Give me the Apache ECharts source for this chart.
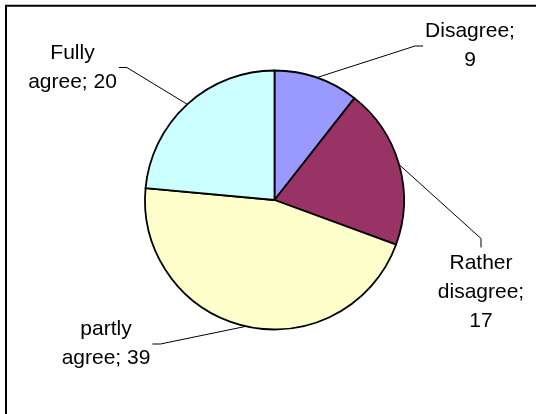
<!DOCTYPE html>
<html>
<head>
<meta charset="utf-8">
<script src="https://cdn.jsdelivr.net/npm/echarts@6/dist/echarts.min.js"></script>
<style>
  html, body { margin: 0; padding: 0; background: #fff; }
  #chart { width: 536px; height: 414px; }
</style>
</head>
<body>
<div id="chart"></div>
<script>
// Survey answers
const categories = ['Disagree', 'Rather disagree', 'partly agree', 'Fully agree'];
const values = [9, 17, 39, 20];
const sliceColors = ['#9999FF', '#993366', '#FFFFCC', '#CCFFFF'];

const FONT_SIZE = 21;
const FONT_FAMILY = '"Liberation Sans", Arial, sans-serif';
const LINE_HEIGHT = 29;
const WRAP_WIDTH = 98;

// Centre of each label block and the side its leader line comes in from
const labelSpots = [
  { x: 470, y: 46, side: 'left' },
  { x: 481, y: 292, side: 'top' },
  { x: 106, y: 344, side: 'right' },
  { x: 72.5, y: 67.5, side: 'right' }
];

// Word-wrap "name; value" to the label width
const measureCtx = document.createElement('canvas').getContext('2d');
measureCtx.font = FONT_SIZE + 'px ' + FONT_FAMILY;
function wrapWords(text) {
  const words = text.split(' ');
  const lines = [];
  let line = '';
  for (const w of words) {
    const trial = line ? line + ' ' + w : w;
    if (line && measureCtx.measureText(trial).width > WRAP_WIDTH) {
      lines.push(line);
      line = w;
    } else {
      line = trial;
    }
  }
  if (line) lines.push(line);
  return lines.join('\n');
}

const chart = echarts.init(document.getElementById('chart'), null, { renderer: 'canvas' });

chart.setOption({
  animation: false,
  backgroundColor: '#fff',
  graphic: [{
    type: 'rect',
    silent: true,
    z: -1,
    shape: { x: 6, y: 5.7, width: 640, height: 520 },
    style: { fill: 'none', stroke: '#000', lineWidth: 2 }
  }],
  series: [{
    type: 'pie',
    center: [274.5, 200],
    radius: 129.5,
    startAngle: 90,
    clockwise: true,
    avoidLabelOverlap: false,
    itemStyle: { borderColor: '#000', borderWidth: 1.8 },
    emphasis: { disabled: true },
    label: {
      show: true,
      position: 'outside',
      color: '#000',
      fontSize: FONT_SIZE,
      fontFamily: FONT_FAMILY,
      lineHeight: LINE_HEIGHT,
      align: 'center',
      formatter: p => wrapWords(p.name + '; ' + p.value)
    },
    labelLine: {
      show: true,
      lineStyle: { color: '#000', width: 1 }
    },
    labelLayout: function (p) {
      const spot = labelSpots[p.dataIndex];
      const w = p.labelRect.width;
      const h = p.labelRect.height;
      const anchor = p.labelLinePoints ? p.labelLinePoints[0] : [spot.x, spot.y];
      let end, bend;
      if (spot.side === 'left') {
        end = [spot.x - w / 2 - 2, spot.y];
        bend = [end[0] - 8, end[1]];
      } else if (spot.side === 'right') {
        end = [spot.x + w / 2 + 2, spot.y];
        bend = [end[0] + 8, end[1]];
      } else {
        end = [spot.x, spot.y - h / 2 - 1];
        bend = [end[0], end[1] - 9];
      }
      return {
        x: spot.x,
        y: spot.y,
        align: 'center',
        verticalAlign: 'middle',
        labelLinePoints: [anchor, bend, end]
      };
    },
    data: categories.map((name, i) => ({
      name: name,
      value: values[i],
      itemStyle: { color: sliceColors[i] }
    }))
  }]
});
</script>
</body>
</html>
